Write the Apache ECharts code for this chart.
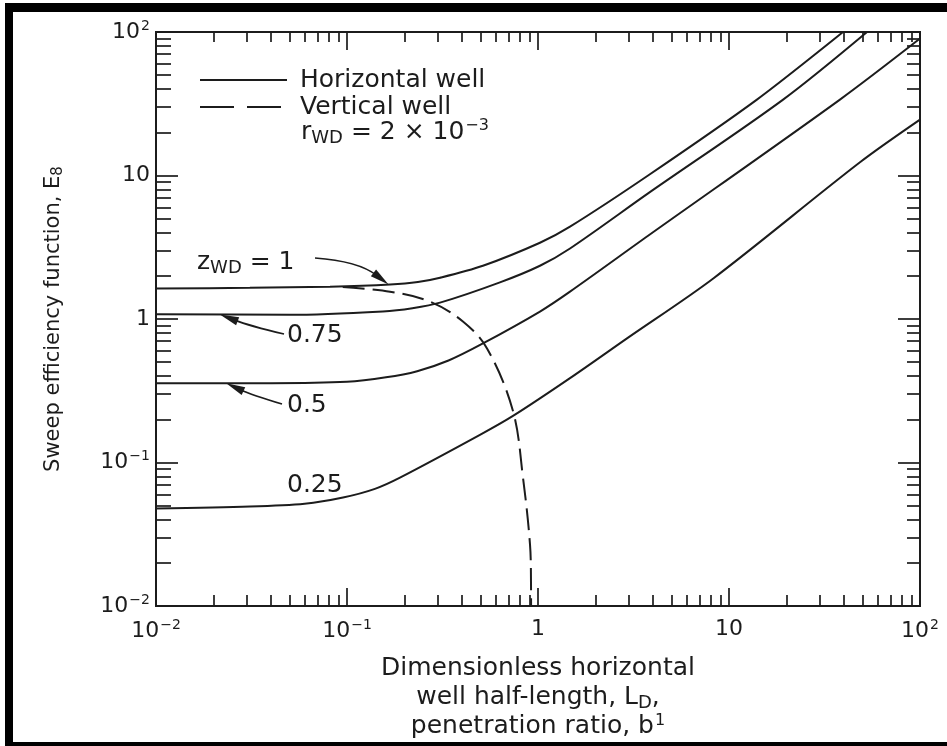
<!DOCTYPE html>
<html>
<head>
<meta charset="utf-8">
<script src="https://cdn.jsdelivr.net/npm/echarts@6/dist/echarts.min.js"></script>
<style>
html,body{margin:0;padding:0;background:#fff;}
body{width:947px;height:746px;overflow:hidden;position:relative;}
#frame{position:absolute;left:5px;top:3px;width:980px;height:747px;box-sizing:border-box;
  border-left:8px solid #000;border-top:9px solid #000;border-bottom:8px solid #000;}
#chart{position:absolute;left:0;top:0;width:947px;height:746px;}
</style>
</head>
<body>
<div id="frame"></div>
<div id="chart"></div>
<script>
// ---------------- data ----------------
// z_WD = 1 (horizontal well)
const xZ100 = [0.01, 0.031, 0.0815, 0.168, 0.235, 0.307, 0.515, 1.024, 1.471, 3.77, 14.0, 39.5];
const yZ100 = [1.63, 1.65, 1.68, 1.74, 1.81, 1.94, 2.35, 3.40, 4.40, 10.0, 33.8, 100];
// z_WD = 0.75
const xZ075 = [0.01, 0.05, 0.154, 0.22, 0.307, 0.632, 1.024, 1.471, 3.77, 19.2, 52.8];
const yZ075 = [1.08, 1.07, 1.13, 1.19, 1.30, 1.80, 2.35, 3.10, 7.5, 33.8, 100];
// z_WD = 0.5
const xZ050 = [0.01, 0.04, 0.1, 0.16, 0.233, 0.34, 0.515, 1.024, 1.471, 3.77, 38.1, 100];
const yZ050 = [0.357, 0.357, 0.365, 0.392, 0.433, 0.514, 0.676, 1.127, 1.551, 3.80, 33.8, 90];
// z_WD = 0.25
const xZ025 = [0.01, 0.031, 0.06, 0.0953, 0.14, 0.1894, 0.4966, 0.7396, 1.471, 2.924, 8.24, 48.5, 100];
const yZ025 = [0.0478, 0.0493, 0.0516, 0.057, 0.0655, 0.0784, 0.1557, 0.211, 0.387, 0.7325, 1.909, 12.36, 24.5];
// vertical well (dashed)
const xVert = [0.095, 0.168, 0.272, 0.4045, 0.541, 0.7396, 0.8346, 0.908, 0.919, 0.92];
const yVert = [1.67, 1.551, 1.322, 0.961, 0.624, 0.2285, 0.0784, 0.0269, 0.01466, 0.01];

// axis ticks and labels
const xTickValues = [0.01, 0.1, 1, 10, 100];
const xTickLabels = ['10{sup|\u22122}', '10{sup|\u22121}', '1', '10', '10{sup|2}'];
const yTickValues = [0.01, 0.1, 1, 10, 100];
const yTickLabels = ['10{sup|\u22122}', '10{sup|\u22121}', '1', '10', '10{sup|2}'];
const minorMultipliers = [2, 3, 4, 5, 6, 7, 8, 9];
const decadeStarts = [0.01, 0.1, 1, 10];

// legend and annotation texts
const legendNames = ['Horizontal well', 'Vertical well'];
const legendNote = 'r{sub|WD} = 2 \u00d7 10{sup|\u22123}';
const curveLabels = ['z{sub|WD} = 1', '0.75', '0.5', '0.25'];
const arrowTips = [[0.165, 1.74], [0.0216, 1.075], [0.0233, 0.357]];

// ---------------- chart ----------------
const FONT = 'DejaVu Sans';
const INK = '#1c1c1c';

const minorValues = [];
decadeStarts.forEach(d => minorMultipliers.forEach(m => minorValues.push(parseFloat((d * m).toPrecision(6)))));

function pairs(xs, ys) { return xs.map((x, i) => [x, ys[i]]); }

const supRich = { fontSize: 14, fontFamily: FONT, color: INK, padding: [0, 0, 12, 1] };

function labelFmt(values, labels) {
  return function (v) {
    let best = 0, bd = Infinity;
    values.forEach((t, i) => { const d = Math.abs(Math.log10(v) - Math.log10(t)); if (d < bd) { bd = d; best = i; } });
    return labels[best];
  };
}

function makeAxis(position, tickVals, len, labelCfg) {
  const ax = {
    type: 'log', logBase: 10, min: 0.01, max: 100, position: position,
    axisLine: { show: true, onZero: false, lineStyle: { color: INK, width: 2 } },
    axisTick: { show: true, inside: true, length: len, customValues: tickVals, lineStyle: { color: INK, width: 1.7 } },
    axisLabel: { show: false },
    splitLine: { show: false },
    minorTick: { show: false },
    minorSplitLine: { show: false }
  };
  if (labelCfg) ax.axisLabel = labelCfg;
  return ax;
}

const xLabelCfg = {
  show: true, customValues: xTickValues, formatter: labelFmt(xTickValues, xTickLabels),
  margin: 12, fontSize: 22, fontFamily: FONT, color: INK, rich: { sup: supRich }
};
const yLabelCfg = {
  show: true, customValues: yTickValues, formatter: labelFmt(yTickValues, yTickLabels),
  margin: 6, fontSize: 22, fontFamily: FONT, color: INK, rich: { sup: supRich }
};

const xAxisMain = makeAxis('bottom', xTickValues, 18, xLabelCfg);
xAxisMain.name = 'Dimensionless horizontal\nwell half-length, L{sub|D},\npenetration ratio, b{sup|1}';
xAxisMain.nameLocation = 'middle';
xAxisMain.nameGap = 48;
xAxisMain.nameTextStyle = {
  fontSize: 25, fontFamily: FONT, color: INK, lineHeight: 29,
  rich: { sub: { fontSize: 18, fontFamily: FONT, color: INK, padding: [12, 0, 0, 0] },
          sup: { fontSize: 16, fontFamily: FONT, color: INK, padding: [0, 0, 12, 1] } }
};

const yAxisMain = makeAxis('left', yTickValues, 22, yLabelCfg);
yAxisMain.name = 'Sweep efficiency function, E{sub|8}';
yAxisMain.nameLocation = 'middle';
yAxisMain.nameRotate = 90;
yAxisMain.nameGap = 90;
yAxisMain.nameTextStyle = {
  fontSize: 21, fontFamily: FONT, color: INK,
  rich: { sub: { fontSize: 15, fontFamily: FONT, color: INK, padding: [10, 0, 0, 0] } }
};

const solidStyle = { color: INK, width: 2, type: 'solid' };
const dashStyle = { color: INK, width: 2, type: [22, 8] };

function solid(xs, ys) {
  return { type: 'line', name: legendNames[0], data: pairs(xs, ys), symbol: 'none', showSymbol: false,
           smooth: 0.3, lineStyle: solidStyle, itemStyle: { color: INK },
           xAxisIndex: 0, yAxisIndex: 0, z: 3 };
}

const chart = echarts.init(document.getElementById('chart'), null, { renderer: 'canvas' });

chart.setOption({
  animation: false,
  backgroundColor: 'transparent',
  grid: { left: 156, right: 27, top: 32, bottom: 137, containLabel: false },
  xAxis: [
    xAxisMain,
    makeAxis('bottom', minorValues, 11, null),
    makeAxis('top', xTickValues, 18, null),
    makeAxis('top', minorValues, 10, null)
  ],
  yAxis: [
    yAxisMain,
    makeAxis('left', minorValues, 15, null),
    makeAxis('right', yTickValues, 22, null),
    makeAxis('right', minorValues, 13, null)
  ],
  series: [
    solid(xZ100, yZ100),
    solid(xZ075, yZ075),
    solid(xZ050, yZ050),
    solid(xZ025, yZ025),
    { type: 'line', name: legendNames[1], data: pairs(xVert, yVert), symbol: 'none', showSymbol: false,
      smooth: 0.35, lineStyle: dashStyle, itemStyle: { color: INK }, xAxisIndex: 0, yAxisIndex: 0, z: 4 }
  ]
});

// ---------------- legend + annotations (labels + arrows) ----------------
const txtStyle = (text, size) => ({
  text: text, fontSize: size || 24, fontFamily: FONT, fill: INK, verticalAlign: 'middle', align: 'left',
  rich: { sub: { fontSize: 18, fontFamily: FONT, fill: INK, padding: [12, 0, 0, 0] },
          sup: { fontSize: 16, fontFamily: FONT, fill: INK, padding: [0, 0, 12, 1] } }
});

function arrow(tail, ctrl, tipData) {
  const tip = chart.convertToPixel({ gridIndex: 0 }, tipData);
  const dx = tip[0] - ctrl[0], dy = tip[1] - ctrl[1];
  const L = Math.hypot(dx, dy), ux = dx / L, uy = dy / L;
  const len = 19, hw = 4.3;
  const bx = tip[0] - ux * len, by = tip[1] - uy * len;
  return [
    { type: 'bezierCurve', silent: true,
      shape: { x1: tail[0], y1: tail[1], x2: bx + ux * 4, y2: by + uy * 4, cpx1: ctrl[0], cpy1: ctrl[1] },
      style: { stroke: INK, lineWidth: 1.7, fill: null }, z: 10 },
    { type: 'polygon', silent: true,
      shape: { points: [[tip[0], tip[1]], [bx - uy * hw, by + ux * hw], [bx + uy * hw, by - ux * hw]] },
      style: { fill: INK }, z: 10 }
  ];
}

const graphics = [
  // legend
  { type: 'line', silent: true, shape: { x1: 200, y1: 80, x2: 287, y2: 80 }, style: { stroke: INK, lineWidth: 2 } },
  { type: 'text', x: 300, y: 80, silent: true, style: txtStyle(legendNames[0], 25) },
  { type: 'line', silent: true, shape: { x1: 200, y1: 107, x2: 287, y2: 107 }, style: { stroke: INK, lineWidth: 2, lineDash: [34, 13] } },
  { type: 'text', x: 300, y: 107, silent: true, style: txtStyle(legendNames[1], 25) },
  { type: 'text', x: 301, y: 132, silent: true, style: txtStyle(legendNote, 25) },
  // curve labels
  { type: 'text', x: 197, y: 262, silent: true, style: txtStyle(curveLabels[0], 25) },
  { type: 'text', x: 287, y: 335, silent: true, style: txtStyle(curveLabels[1], 25) },
  { type: 'text', x: 287, y: 405, silent: true, style: txtStyle(curveLabels[2], 25) },
  { type: 'text', x: 287, y: 485, silent: true, style: txtStyle(curveLabels[3], 25) }
].concat(
  arrow([315, 258], [358, 261], arrowTips[0]),
  arrow([284, 334], [250, 326], arrowTips[1]),
  arrow([282, 404], [252, 395], arrowTips[2])
);

chart.setOption({ graphic: graphics });
</script>
</body>
</html>
